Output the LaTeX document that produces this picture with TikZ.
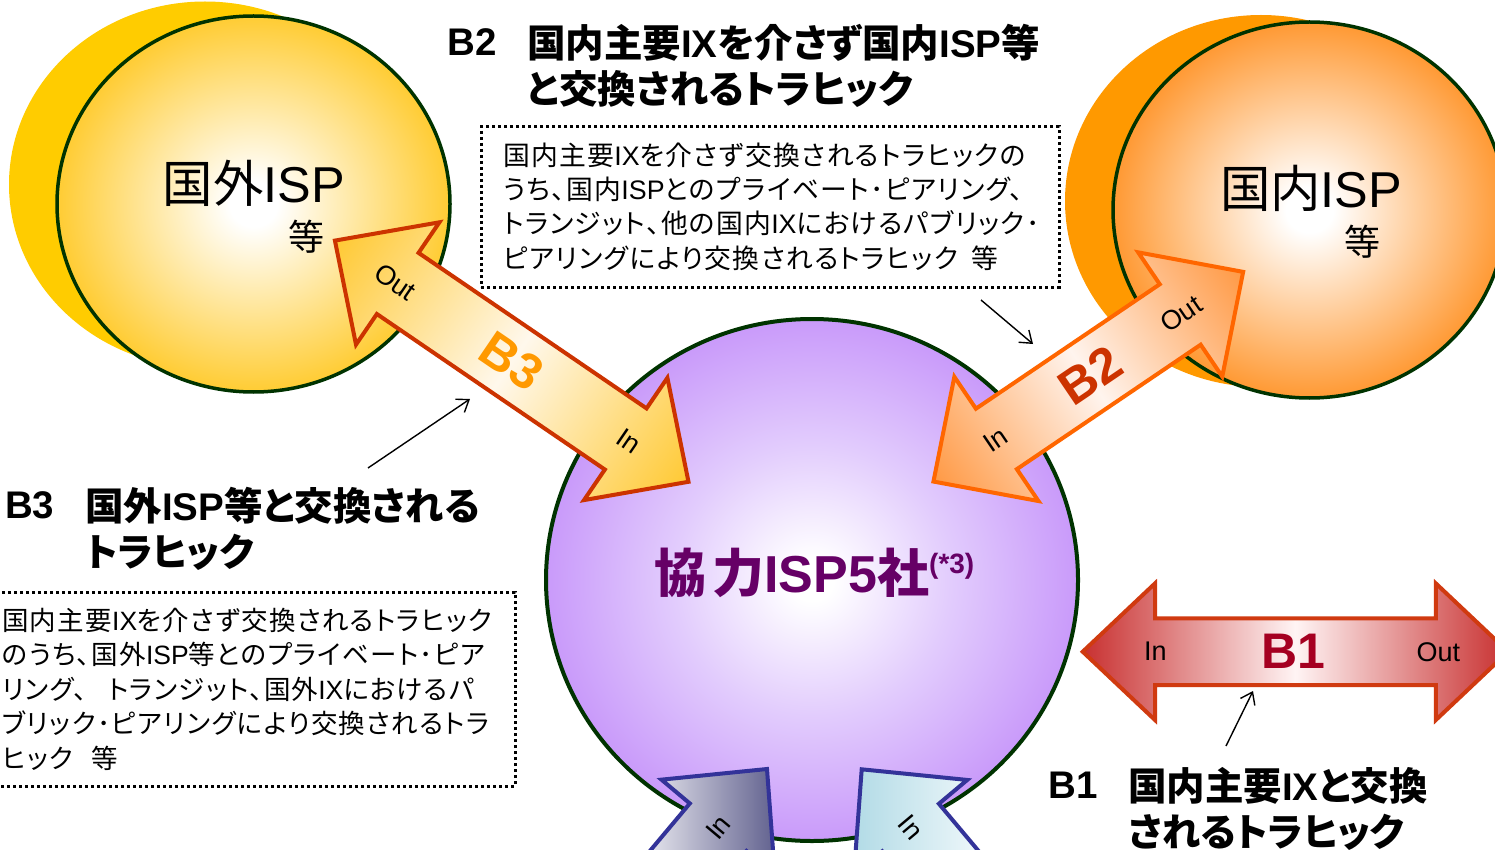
\documentclass[tikz,border=0pt]{standalone}
\usepackage{fontspec}
\setmainfont{Liberation Sans}
\newfontfamily\jp[RawFeature=+palt]{Noto Sans CJK JP}
\newfontfamily\jpbox[RawFeature=+palt, LetterSpace=5]{Noto Sans CJK JP}
\newcommand\J[1]{{\jp #1}}
\newcommand\K[1]{{\jpbox #1}}
\usetikzlibrary{arrows.meta,shapes.geometric}
\definecolor{cYel}{HTML}{FFCC33}
\definecolor{cYelS}{HTML}{FFCC00}
\definecolor{cOrg}{HTML}{FF9933}
\definecolor{cOrgS}{HTML}{FF9900}
\definecolor{cPur}{HTML}{C99AFA}
\definecolor{cPurM}{HTML}{E2CCFD}
\definecolor{cRing}{HTML}{003300}
\definecolor{cBthreeLine}{HTML}{CC3300}
\definecolor{cBthreeFill}{HTML}{FFC933}
\definecolor{cBthreeMid}{HTML}{FFF8EC}
\definecolor{cBtwoLine}{HTML}{FF6600}
\definecolor{cBtwoFill}{HTML}{FF9944}
\definecolor{cBtwoMid}{HTML}{FFF4EE}
\definecolor{cBoneLine}{HTML}{D03A10}
\definecolor{cBoneFill}{HTML}{C83030}
\definecolor{cBoneMid}{HTML}{FFF4F4}
\definecolor{cBoneText}{HTML}{A50021}
\definecolor{cBtwoText}{HTML}{CC3300}
\definecolor{cBthreeText}{HTML}{FF9900}
\definecolor{cPurText}{HTML}{660066}
\definecolor{cBlueLine}{HTML}{333399}
\definecolor{cGreyA}{HTML}{E4E4EC}
\definecolor{cGreyB}{HTML}{62628F}
\definecolor{cCyanA}{HTML}{B2DBE6}
\definecolor{cCyanB}{HTML}{EEF7FA}
\pgfdeclareradialshading{ballYel}{\pgfpoint{0bp}{0bp}}{color(0bp)=(white); color(3bp)=(white); color(25bp)=(cYel); color(50bp)=(cYel)}
\pgfdeclareradialshading{ballOrg}{\pgfpoint{0bp}{0bp}}{color(0bp)=(white); color(3bp)=(white); color(25bp)=(cOrg); color(50bp)=(cOrg)}
\pgfdeclareradialshading{ballPur}{\pgfpoint{0bp}{0bp}}{color(0bp)=(white); color(2bp)=(white); color(13bp)=(cPurM); color(25bp)=(cPur); color(50bp)=(cPur)}
\tikzset{
  ring/.style={ellipse, inner sep=0pt, draw=cRing, line width=3.5pt},
  shadowdisk/.style={ellipse, inner sep=0pt},
  bigarrow/.style={line width=4pt, line join=miter},
  arrowBthree/.style={bigarrow, draw=cBthreeLine, left color=cBthreeFill, right color=cBthreeFill, middle color=cBthreeMid},
  arrowBtwo/.style={bigarrow, draw=cBtwoLine, left color=cBtwoFill, right color=cBtwoFill, middle color=cBtwoMid},
  arrowBone/.style={bigarrow, draw=cBoneLine, left color=cBoneFill, right color=cBoneFill, middle color=cBoneMid},
  arrowBL/.style={bigarrow, draw=cBlueLine, left color=cGreyA, right color=cGreyB},
  arrowBR/.style={bigarrow, draw=cBlueLine, left color=cCyanA, right color=cCyanB},
  iolabel/.style={font=\fontsize{27pt}{30pt}\selectfont, inner sep=0pt},
  blabel/.style={font=\bfseries\fontsize{50pt}{56pt}\selectfont, inner sep=0pt},
  ispname/.style={font=\fontsize{50.4pt}{56pt}\selectfont, inner sep=0pt},
  etclabel/.style={font=\jp\fontsize{36pt}{40pt}\selectfont, inner sep=0pt},
  titleB/.style={font=\bfseries\fontsize{38.5pt}{46pt}\selectfont, inner sep=0pt, anchor=west},
  titletext/.style={font=\bfseries\fontsize{38.5pt}{46pt}\selectfont, inner sep=0pt, anchor=north west, align=left},
  dotbox/.style={draw, line width=3pt, dash pattern=on 3pt off 3pt, inner sep=0pt},
  boxtext/.style={font=\fontsize{26.8pt}{34.2pt}\selectfont, inner sep=0pt, anchor=north west, align=left},
  conn/.style={line width=1.4pt, -{Straight Barb[length=11pt,width=16pt]}},
}
\begin{document}
\begin{tikzpicture}[x=1pt,y=-1pt]
\useasboundingbox (0,0) rectangle (1495,850);
\fill[white] (0,0) rectangle (1495,850);

% foreign ISP circle
\node[shadowdisk, fill=cYelS, minimum width=392pt, minimum height=366pt] (yshadow) at (205,184.5) {};
\node[ring, shading=ballYel, minimum width=393pt, minimum height=376pt] (yfront) at (253.5,204) {};
\node[ispname] (yname) at (254,183) {\J{国外}ISP};
\node[etclabel] (yetc) at (306,237) {等};

% domestic ISP circle
\node[shadowdisk, fill=cOrgS, minimum width=392pt, minimum height=372pt] (oshadow) at (1261,201) {};
\node[ring, shading=ballOrg, minimum width=393pt, minimum height=376pt] (ofront) at (1309.5,210) {};
\node[ispname] (oname) at (1311,188) {\J{国内}ISP};
\node[etclabel] (oetc) at (1362,242) {等};

% cooperating ISPs circle
\node[ring, line width=4pt, shading=ballPur, minimum width=532pt, minimum height=522pt] (pcircle) at (812,580) {};
\node[font=\bfseries\fontsize{52pt}{58pt}\selectfont, text=cPurText, inner sep=0pt, anchor=base west] (pname) at (654,592)
  {\J{協}\hspace{0.12em}\J{力}ISP5\J{社}\raisebox{0.36em}{\fontsize{28pt}{30pt}\selectfont(*3)}};

% B3 arrow
\begin{scope}[transform canvas={shift={(511.7,361.2)},rotate=-34.3}]
  \path[arrowBthree] (-214,0) -- (-138,-74) -- (-138,-37) -- (138,-37) -- (138,-74) -- (214,0)
     -- (138,74) -- (138,37) -- (-138,37) -- (-138,74) -- cycle;
  \node[iolabel] (bthreeout) at (-141,0) {Out};
  \node[iolabel] (bthreein) at (142,0) {In};
  \node[blabel, text=cBthreeText] (bthreelab) at (0,0) {B3};
\end{scope}

% B2 arrow
\begin{scope}[transform canvas={shift={(1088.3,376.7)},rotate=34.1}]
  \path[arrowBtwo] (-187,0) -- (-111,-75) -- (-111,-36.5) -- (111,-36.5) -- (111,-75) -- (187,0)
     -- (111,75) -- (111,36.5) -- (-111,36.5) -- (-111,75) -- cycle;
  \node[iolabel] (btwoin) at (-112,0) {In};
  \node[iolabel] (btwoout) at (112,0) {Out};
  \node[blabel, text=cBtwoText] (btwolab) at (2,0) {B2};
\end{scope}

% B1 arrow
\begin{scope}[transform canvas={shift={(1295.4,651.7)}}]
  \path[arrowBone] (-212.7,0) -- (-140.4,-68.3) -- (-140.4,-33.4) -- (140.4,-33.4) -- (140.4,-68.3) -- (212.7,0)
     -- (140.4,68.3) -- (140.4,33.4) -- (-140.4,33.4) -- (-140.4,68.3) -- cycle;
  \node[iolabel] (bonein) at (-140,0) {In};
  \node[iolabel] (boneout) at (143,0) {Out};
  \node[blabel, text=cBoneText] (bonelab) at (-2,0) {B1};
\end{scope}

% bottom arrows
\begin{scope}[shift={(767,769)}, rotate=50]
  \path[arrowBL] (0,0) -- (-76,-74) -- (-76,-37) -- (-140,-37) -- (-140,37) -- (-76,37) -- (-76,74) -- cycle;
  \node[iolabel, rotate=50] (blin) at (-76,0) {In};
\end{scope}
\begin{scope}[shift={(861.7,769.3)}, rotate=130]
  \path[arrowBR] (0,0) -- (-76,-74) -- (-76,-37) -- (-140,-37) -- (-140,37) -- (-76,37) -- (-76,74) -- cycle;
  \node[iolabel, rotate=-50] (brin) at (-76,0) {In};
\end{scope}

% B2 title and box
\node[titleB] (ttwob) at (447,42) {B2};
\node[titletext] (ttwo) at (527,24.5) {\J{国内主要}IX\J{を介さず国内}ISP\J{等}\\\J{と交換されるトラヒック}};
\node[dotbox, minimum width=578pt, minimum height=160pt] (boxtwo) at (770,207) {};
\node[boxtext] (dtwo) at (503,142.7) {\K{国内主要}IX\K{を介さず交換されるトラヒックの}\\
\K{うち、国内}ISP\K{とのプライベート･ピアリング、}\\
\K{トランジット、他の国内}IX\K{におけるパブリック･}\\
\K{ピアリングにより交換されるトラヒック}\hspace{0.5em}\K{等}};

% B3 title and box
\node[titleB] (tthreeb) at (5,505) {B3};
\node[titletext] (tthree) at (85,487.3) {\J{国外}ISP\J{等と交換される}\\\J{トラヒック}};
\node[dotbox, minimum width=520pt, minimum height=194pt] (boxthree) at (255,689) {};
\node[boxtext, font=\fontsize{26.5pt}{34.5pt}\selectfont] (dthree) at (2,607.8) {\K{国内主要}IX\K{を介さず交換されるトラヒック}\\
\K{のうち、国外}ISP\K{等とのプライベート･ピア}\\
\K{リング、}\hspace{0.8em}\K{トランジット、国外}IX\K{におけるパ}\\
\K{ブリック･ピアリングにより交換されるトラ}\\
\K{ヒック}\hspace{0.7em}\K{等}};

% B1 title
\node[titleB] (toneb) at (1048,785) {B1};
\node[titletext] (tone) at (1128,767.3) {\J{国内主要}IX\J{と交換}\\\J{されるトラヒック}};

% pointer connectors
\coordinate (cthreea) at (368,468);
\coordinate (cthreeb) at (470,399);
\coordinate (ctwoa) at (981,300);
\coordinate (ctwob) at (1033,344);
\coordinate (conea) at (1226,746);
\coordinate (coneb) at (1253,691);
\draw[conn] (cthreea) -- (cthreeb);
\draw[conn] (ctwoa) -- (ctwob);
\draw[conn] (conea) -- (coneb);
\end{tikzpicture}
\end{document}
